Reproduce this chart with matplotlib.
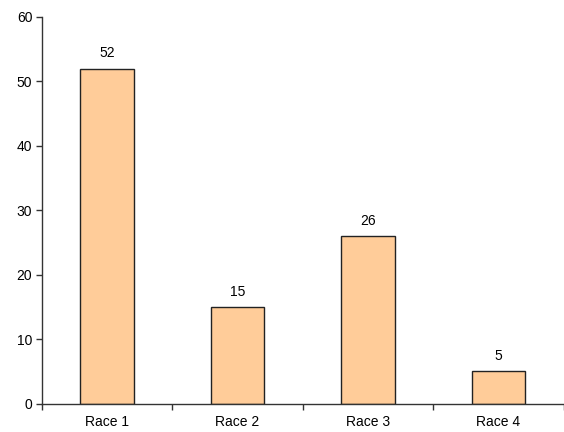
import matplotlib
matplotlib.use("Agg")
import matplotlib.pyplot as plt

categories = ["Race 1", "Race 2", "Race 3", "Race 4"]
values = [52, 15, 26, 5]
y_ticks = [0, 10, 20, 30, 40, 50, 60]

plt.rcParams["font.family"] = ["Liberation Sans", "DejaVu Sans"]
plt.rcParams["font.size"] = 10

fig = plt.figure(figsize=(5.64, 4.32), dpi=100)
ax = fig.add_axes([42 / 564, 1 - 403.5 / 432, 521.5 / 564, 386.5 / 432])

x = list(range(len(categories)))
bars = ax.bar(x, values, width=0.41, color="#FFCC99", edgecolor="#222222",
              linewidth=1.0)
for b, v in zip(bars, values):
    ax.text(b.get_x() + b.get_width() / 2, v + 1.3, str(v),
            ha="center", va="bottom", color="black")

ax.set_xlim(-0.5, len(categories) - 0.5)
ax.set_ylim(0, 60)
ax.set_yticks(y_ticks)
ax.set_xticks(x)
ax.set_xticklabels(categories)
# category separators as tick marks, labels sit between them
ax.set_xticks([i - 0.5 for i in range(len(categories) + 1)], minor=True)
ax.tick_params(axis="x", which="major", length=0, pad=8.5)
ax.tick_params(axis="x", which="minor", length=4, width=1, color="#333333")
ax.tick_params(axis="y", length=4, width=1, color="#333333", pad=3)

for s in ["top", "right"]:
    ax.spines[s].set_visible(False)
for s in ["left", "bottom"]:
    ax.spines[s].set_color("#333333")
    ax.spines[s].set_linewidth(1.0)

fig.savefig("out.png", dpi=100)
